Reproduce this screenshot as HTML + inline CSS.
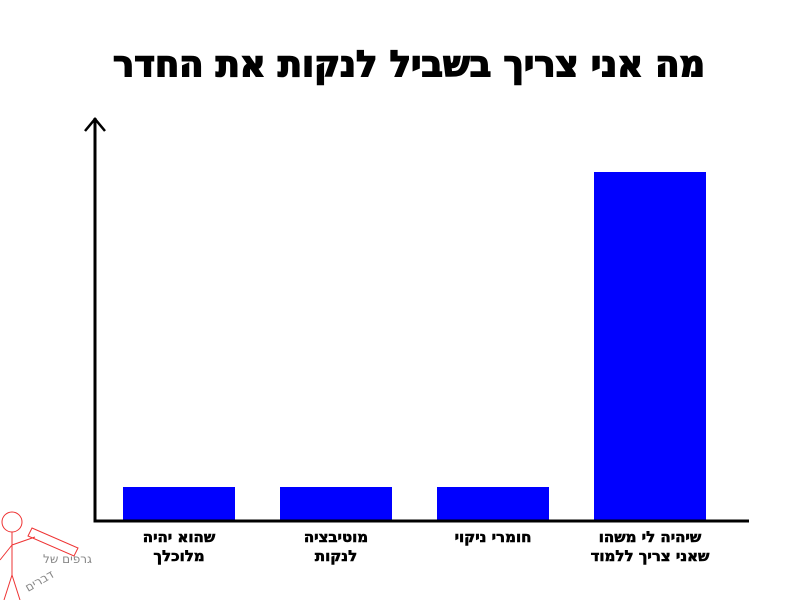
<!DOCTYPE html>
<html><head><meta charset="utf-8"><style>
body{margin:0;background:#fff;width:800px;height:600px;overflow:hidden}
</style></head><body>
<svg width="800" height="600" xmlns="http://www.w3.org/2000/svg" font-family="DejaVu Sans, Liberation Sans, sans-serif">
<text x="409" y="76" text-anchor="middle" font-size="36" font-weight="bold" stroke="#000" stroke-width="1.6" textLength="592" lengthAdjust="spacingAndGlyphs" direction="rtl">מה אני צריך בשביל לנקות את החדר</text>
<rect x="123" y="487" width="112" height="34" fill="#0000ff"/>
<rect x="280" y="487" width="112" height="34" fill="#0000ff"/>
<rect x="437" y="487" width="112" height="34" fill="#0000ff"/>
<rect x="594" y="172" width="112" height="349" fill="#0000ff"/>
<path d="M95 118 V521 H749" fill="none" stroke="#000" stroke-width="3"/>
<path d="M85 131 L95 119 L105 131" fill="none" stroke="#000" stroke-width="2.5"/>
<g font-size="15" font-weight="bold" text-anchor="middle" direction="rtl" stroke="#000" stroke-width="0.6">
<text x="179" y="542">שהוא יהיה</text><text x="179" y="561">מלוכלך</text>
<text x="336" y="542">מוטיבציה</text><text x="336" y="561">לנקות</text>
<text x="493" y="542">חומרי ניקוי</text>
<text x="650" y="542">שיהיה לי משהו</text><text x="650" y="561">שאני צריך ללמוד</text>
</g>
<g stroke="#e33" fill="none" stroke-width="1">
<circle cx="12" cy="522" r="10"/>
<path d="M12 532 V575 M12 575 L4 600 M12 575 L20 600 M12 545 L0 560 M12 545 L35 537"/>
<path d="M32 528 L78 548 L74 556 L28 536 Z"/>
</g>
<text x="92" y="563" font-size="12" fill="#888" text-anchor="start" direction="rtl">גרפים של</text>
<text x="28" y="592" font-size="12" fill="#888" transform="rotate(-30 28 592)" direction="rtl" text-anchor="end">דברים</text>
</svg>
</body></html>
